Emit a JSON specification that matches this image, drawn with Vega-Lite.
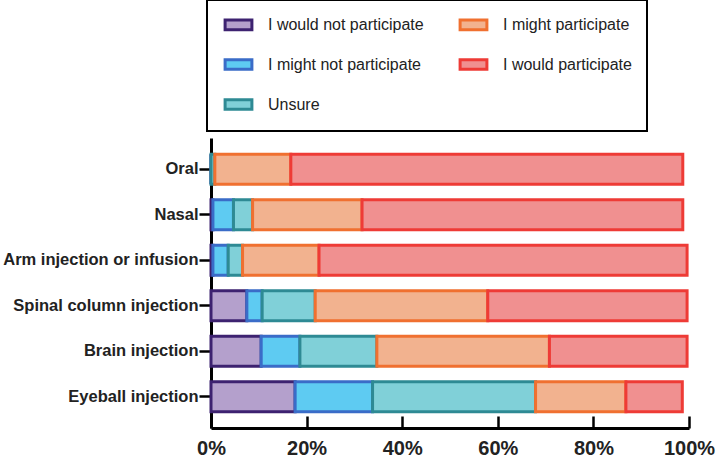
{
  "$schema": "https://vega.github.io/schema/vega-lite/v6.json",
  "autosize": {"type": "none"},
  "width": 478,
  "height": 290,
  "padding": {"left": 211, "top": 138, "right": 29, "bottom": 34},
  "background": "white",
  "data": {
    "values": [
      {"route": "Oral", "response": "I would not participate", "pct": 0},
      {"route": "Oral", "response": "I might not participate", "pct": 0},
      {"route": "Oral", "response": "Unsure", "pct": 0.8},
      {"route": "Oral", "response": "I might participate", "pct": 15.9},
      {"route": "Oral", "response": "I would participate", "pct": 82.0},
      {"route": "Nasal", "response": "I would not participate", "pct": 0.4},
      {"route": "Nasal", "response": "I might not participate", "pct": 4.3},
      {"route": "Nasal", "response": "Unsure", "pct": 4.0},
      {"route": "Nasal", "response": "I might participate", "pct": 22.9},
      {"route": "Nasal", "response": "I would participate", "pct": 67.1},
      {"route": "Arm injection or infusion", "response": "I would not participate", "pct": 0.4},
      {"route": "Arm injection or infusion", "response": "I might not participate", "pct": 3.2},
      {"route": "Arm injection or infusion", "response": "Unsure", "pct": 3.0},
      {"route": "Arm injection or infusion", "response": "I might participate", "pct": 16.0},
      {"route": "Arm injection or infusion", "response": "I would participate", "pct": 77.0},
      {"route": "Spinal column injection", "response": "I would not participate", "pct": 7.5},
      {"route": "Spinal column injection", "response": "I might not participate", "pct": 3.2},
      {"route": "Spinal column injection", "response": "Unsure", "pct": 11.1},
      {"route": "Spinal column injection", "response": "I might participate", "pct": 36.1},
      {"route": "Spinal column injection", "response": "I would participate", "pct": 41.7},
      {"route": "Brain injection", "response": "I would not participate", "pct": 10.5},
      {"route": "Brain injection", "response": "I might not participate", "pct": 8.1},
      {"route": "Brain injection", "response": "Unsure", "pct": 16.1},
      {"route": "Brain injection", "response": "I might participate", "pct": 36.1},
      {"route": "Brain injection", "response": "I would participate", "pct": 28.8},
      {"route": "Eyeball injection", "response": "I would not participate", "pct": 17.6},
      {"route": "Eyeball injection", "response": "I might not participate", "pct": 16.2},
      {"route": "Eyeball injection", "response": "Unsure", "pct": 34.1},
      {"route": "Eyeball injection", "response": "I might participate", "pct": 18.9},
      {"route": "Eyeball injection", "response": "I would participate", "pct": 11.8}
    ]
  },
  "transform": [
    {"calculate": "indexof(['I would not participate','I might not participate','Unsure','I might participate','I would participate'], datum.response)", "as": "rank"}
  ],
  "mark": {"type": "bar", "strokeWidth": 3, "opacity": 1},
  "encoding": {
    "y": {
      "field": "route", "type": "nominal",
      "sort": ["Oral", "Nasal", "Arm injection or infusion", "Spinal column injection", "Brain injection", "Eyeball injection"],
      "scale": {"paddingInner": 0.34, "paddingOuter": 0.36},
      "axis": {
        "title": null, "labelFont": "Liberation Sans", "labelFontWeight": "bold", "labelFontSize": 16.5,
        "labelColor": "#222", "labelPadding": 1, "tickSize": 12, "tickWidth": 2.5, "tickColor": "black",
        "domainColor": "black", "domainWidth": 3, "grid": false, "labelLimit": 400
      }
    },
    "x": {
      "field": "pct", "type": "quantitative", "stack": "zero",
      "scale": {"domain": [0, 100], "nice": false},
      "axis": {
        "title": null, "values": [0, 20, 40, 60, 80, 100], "labelExpr": "datum.value + '%'",
        "labelFont": "Liberation Sans", "labelFontWeight": "bold", "labelFontSize": 20, "labelColor": "#222",
        "tickSize": -12, "tickWidth": 2.5, "tickColor": "black", "domainColor": "black", "domainWidth": 3,
        "labelPadding": 22, "grid": false, "labelFlush": false, "labelOverlap": false
      }
    },
    "fill": {
      "field": "response", "type": "nominal",
      "scale": {
        "domain": ["I would not participate", "I might not participate", "Unsure", "I might participate", "I would participate"],
        "range": ["#b4a0cc", "#5ecbf2", "#80d0d8", "#f2b28f", "#f09090"]
      },
      "legend": {
        "orient": "none", "legendX": -4, "legendY": -138, "columns": 2, "title": null,
        "symbolType": "M-0.8,-0.6H2.55V0.6H-0.8Z", "symbolSize": 256, "symbolStrokeWidth": 3, "symbolOpacity": 1,
        "labelFont": "Liberation Sans", "labelFontSize": 16, "labelColor": "#222", "labelOffset": 27, "labelLimit": 300,
        "rowPadding": 17, "columnPadding": 30, "padding": 15, "strokeColor": "black"
      }
    },
    "stroke": {
      "field": "response", "type": "nominal",
      "scale": {
        "domain": ["I would not participate", "I might not participate", "Unsure", "I might participate", "I would participate"],
        "range": ["#3d2270", "#3a6cc8", "#2e8a94", "#f07030", "#ee3b36"]
      },
      "legend": {
        "orient": "none", "legendX": -4, "legendY": -138, "columns": 2, "title": null,
        "symbolType": "M-0.8,-0.6H2.55V0.6H-0.8Z", "symbolSize": 256, "symbolStrokeWidth": 3, "symbolOpacity": 1,
        "labelFont": "Liberation Sans", "labelFontSize": 16, "labelColor": "#222", "labelOffset": 27, "labelLimit": 300,
        "rowPadding": 17, "columnPadding": 30, "padding": 15, "strokeColor": "black"
      }
    },
    "order": {"field": "rank", "type": "quantitative"}
  },
  "config": {"view": {"stroke": null}, "legend": {"strokeWidth": 2}}
}
